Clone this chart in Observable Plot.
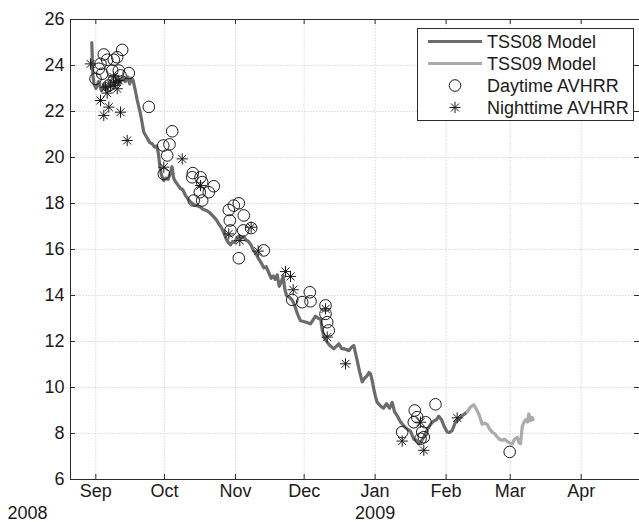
<!DOCTYPE html>
<html><head><meta charset="utf-8">
<script src="https://cdn.jsdelivr.net/npm/d3@7"></script>
<script src="https://cdn.jsdelivr.net/npm/@observablehq/plot@0.6"></script>
<style>body{margin:0;background:#fff}#chart{width:639px;height:522px}</style>
</head><body><div id="chart"></div>
<script>
// Time is stored as days since 2008-09-01 (UTC)
const baseDay = "2008-09-01";
const xLimitDays = [-11.05, 237.47];

const t08Day = [-1.75,-1.31,-0.79,0.09,1.18,2.49,3.80,5.11,6.42,7.73,
9.04,10.35,11.66,12.88,14.02,14.81,15.59,16.29,17.30,18.08,
19.52,20.96,22.45,23.50,24.59,25.64,26.60,27.30,28.00,28.78,
29.70,30.62,31.62,32.49,33.28,34.02,34.81,35.90,36.99,38.00,
39.18,40.27,41.49,42.89,44.20,45.60,46.82,48.31,49.79,51.19,
52.59,53.81,54.90,55.99,56.99,57.91,58.83,59.71,60.71,61.58,
62.63,63.64,64.60,65.69,66.69,67.78,68.88,70.01,71.10,72.33,
73.42,74.42,75.52,76.61,77.53,78.40,79.23,80.10,80.89,81.81,
82.51,83.29,84.29,85.78,86.78,88.09,89.40,91.59,93.77,95.96,
97.27,98.23,98.88,99.89,101.07,102.51,103.95,105.13,106.13,107.31,
108.32,109.50,110.50,111.68,112.68,113.43,114.17,115.18,116.35,117.36,
118.54,119.32,119.98,120.72,121.42,122.16,122.90,124.34,125.66,126.97,
128.28,129.46,130.47,131.78,133.09,135.27,137.46,138.89,140.07,141.07,
141.81,143.26,144.74,146.18,147.62,148.80,149.81,150.99,151.99,153.48,
154.48,155.66,157.10,158.41,159.72,161.03,162.21];
const t08Temp = [25.0,23.6,23.2,23.0,23.3,22.9,23.2,23.0,23.3,23.1,
23.4,23.2,23.5,23.3,23.5,23.2,23.45,23.35,22.9,22.5,
21.9,21.1,20.85,20.65,20.6,20.45,20.5,20.2,19.6,19.2,
19.0,19.1,19.05,19.3,19.6,19.1,18.95,18.8,18.65,18.6,
18.35,18.2,18.05,17.95,17.9,17.85,17.75,17.7,17.6,17.45,
17.3,17.1,16.95,16.7,16.45,16.3,16.2,16.35,16.3,16.5,
16.6,16.5,16.55,16.4,16.35,16.2,15.95,15.8,15.6,15.4,
15.2,15.25,15.0,14.75,14.85,14.7,14.9,14.4,14.55,14.85,
14.3,14.0,13.95,13.8,13.6,13.2,12.9,12.85,12.77,13.1,
13.0,12.98,12.5,12.15,11.97,11.8,11.68,11.8,11.9,11.7,
11.68,11.65,11.6,11.75,11.83,11.5,11.17,10.7,10.25,10.4,
10.52,10.65,10.6,10.3,9.94,9.6,9.35,9.2,9.1,9.3,
9.1,9.35,8.95,8.75,8.5,8.25,8.1,7.75,7.7,7.55,
7.6,7.85,8.15,8.4,8.55,8.6,8.75,8.6,8.35,8.06,
8.05,8.13,8.5,8.6,8.75,8.85,8.95];

const t09Day = [162.21,163.65,165.09,166.27,167.28,168.76,169.77,170.95,171.95,173.13,
174.14,175.32,176.32,177.50,178.51,179.69,180.69,181.87,182.88,184.05,
184.84,185.50,186.24,186.81,187.68,188.56,189.12,189.87,190.52,191.04];
const t09Temp = [8.95,9.15,9.25,9.05,8.85,8.4,8.45,8.4,8.2,8.06,
8.0,7.85,7.75,7.7,7.75,7.65,7.6,7.55,7.75,7.84,
7.6,7.55,8.3,8.45,8.6,8.5,8.85,8.55,8.7,8.6];

const dayDay = [-0.13,1.31,2.05,2.8,3.49,4.98,5.68,7.16,7.86,7.86,9.35,10.05,10.79,11.53,14.41,23.15,
29.44,29.70,31.18,32.19,33.37,42.10,42.37,42.80,45.42,45.73,46.47,46.47,49.35,51.54,
58.09,58.53,58.83,60.27,62.46,62.46,64.38,64.64,67.87,73.38,85.78,90.15,93.47,93.77,
100.32,100.32,101.07,101.76,133.82,138.89,139.33,140.37,141.82,142.56,143.26,144.0,148.37,180.77];
const dayTemp = [23.42,23.86,24.07,23.64,24.48,24.25,23.13,23.78,24.25,23.35,24.36,23.78,23.57,24.68,23.67,22.2,
20.52,19.29,20.09,20.57,21.14,19.14,19.32,18.13,18.49,19.14,18.93,18.13,18.49,18.75,
17.72,17.26,16.83,17.91,18.01,15.62,16.83,17.48,16.93,15.96,13.81,13.71,14.14,13.75,
13.57,13.2,12.84,12.48,8.06,8.49,9.0,8.71,7.77,8.06,7.84,8.49,9.27,7.2];

const nightDay = [-2.31,2.05,3.49,4.24,4.98,5.68,6.46,7.73,8.6,9.35,
10.05,10.79,13.71,29.70,37.74,45.73,58.09,62.89,67.87,70.93,
82.85,85.04,86.22,100.32,101.07,109.06,133.82,141.82,143.26,157.84];
const nightTemp = [24.07,22.48,21.83,23.06,22.8,22.19,23.1,23.5,23.27,22.99,
23.35,21.97,20.74,19.58,19.94,18.78,16.68,16.39,16.97,15.93,
15.04,14.83,14.25,13.42,12.19,11.03,7.67,8.49,7.27,8.68];

const monthTicks = ["2008-09-01","2008-10-01","2008-11-01","2008-12-01","2009-01-01","2009-02-01","2009-03-01","2009-04-01"];
const monthLabels = ["Sep","Oct","Nov","Dec","Jan","Feb","Mar","Apr"];
const yTicks = [6,8,10,12,14,16,18,20,22,24,26];
const yearTicks = ["2008-09-01","2009-01-01"];
const yearLabels = ["2008","2009"];
const legendLabels = ["TSS08 Model","TSS09 Model","Daytime AVHRR","Nighttime AVHRR"];

const C08 = "#6b6b6b", C09 = "#ababab", INK = "#1a1a1a", AX = "#2b2b2b", GRID = "#e0e0e0";
const FS = 18;

const base = new Date(baseDay + "T00:00:00Z").getTime();
const toDate = d => new Date(base + d * 864e5);
const parse = s => new Date(s + "T00:00:00Z");

const tss08 = t08Day.map((d, i) => ({date: toDate(d), temp: t08Temp[i]}));
const tss09 = t09Day.map((d, i) => ({date: toDate(d), temp: t09Temp[i]}));
const daytime = dayDay.map((d, i) => ({date: toDate(d), temp: dayTemp[i]}));
const nighttime = nightDay.map((d, i) => ({date: toDate(d), temp: nightTemp[i]}));
const monthDates = monthTicks.map(parse);
const labelOf = new Map(monthDates.map((d, i) => [+d, monthLabels[i]]));
const xDomain = xLimitDays.map(toDate);

const W = 639, H = 522, ML = 70, MR = 0, MT = 19, MB = 43;
const frameW = W - ML - MR, frameH = H - MT - MB, TK = 5;

const plot = Plot.plot({
  width: W, height: H,
  marginLeft: ML, marginRight: MR, marginTop: MT, marginBottom: MB,
  style: {fontFamily: "'Liberation Sans', Arial, Helvetica, sans-serif", fontSize: FS + "px", color: INK, background: "#fff", overflow: "visible"},
  x: {type: "utc", domain: xDomain, label: null},
  y: {domain: [yTicks[0], yTicks[yTicks.length - 1]], label: null},
  marks: [
    Plot.ruleX(monthDates, {stroke: GRID, strokeDasharray: "2,1"}),
    Plot.ruleY(yTicks.slice(1, -1), {stroke: GRID, strokeDasharray: "2,1"}),
    Plot.line(tss08, {x: "date", y: "temp", stroke: C08, strokeWidth: 3.2, strokeLinejoin: "round"}),
    Plot.line(tss09, {x: "date", y: "temp", stroke: C09, strokeWidth: 3.2, strokeLinejoin: "round"}),
    Plot.dot(daytime, {x: "date", y: "temp", r: 5.8, stroke: INK, strokeWidth: 1, fill: "none"}),
    Plot.dot(nighttime, {x: "date", y: "temp", symbol: "plus", r: 3.7, stroke: INK, strokeWidth: 1}),
    Plot.dot(nighttime, {x: "date", y: "temp", symbol: "times", r: 3.7, stroke: INK, strokeWidth: 1}),
    Plot.ruleY([yTicks[0]], {stroke: AX}),
    Plot.ruleY([yTicks[yTicks.length - 1]], {stroke: AX}),
    Plot.ruleX([xDomain[0]], {stroke: AX}),
    Plot.ruleX(monthDates, {insetTop: frameH - TK, stroke: AX}),
    Plot.ruleX(monthDates, {insetBottom: frameH - TK, stroke: AX}),
    Plot.ruleY(yTicks, {insetRight: frameW - TK, stroke: AX}),
    Plot.ruleY(yTicks, {insetLeft: frameW - TK, stroke: AX}),
    Plot.axisX(monthDates, {tickSize: 0, tickPadding: 5, tickFormat: d => labelOf.get(+d), fontSize: FS, label: null}),
    Plot.axisY(yTicks, {tickSize: 0, tickPadding: 6, fontSize: FS, label: null}),
    Plot.text([yearLabels[1]], {x: () => parse(yearTicks[1]), text: d => d, frameAnchor: "bottom", textAnchor: "middle", lineAnchor: "middle", dy: 34, fontSize: FS, fill: INK}),
    Plot.text([yearLabels[0]], {text: d => d, frameAnchor: "bottom-left", textAnchor: "middle", lineAnchor: "middle", dx: -43, dy: 34, fontSize: FS, fill: INK})
  ]
});
document.getElementById("chart").appendChild(plot);

// legend (inside the axes, top right)
const svg = d3.select(plot);
const lg = svg.append("g").attr("font-family", "'Liberation Sans', Arial, sans-serif").attr("font-size", FS).attr("fill", INK).attr("text-anchor", "start");
lg.append("rect").attr("x", 417.5).attr("y", 28.5).attr("width", 216).attr("height", 92)
  .attr("fill", "#fff").attr("stroke", AX).attr("stroke-width", 1);
const rowY = i => 41.5 + i * 22;
lg.append("line").attr("x1", 428).attr("x2", 482).attr("y1", rowY(0)).attr("y2", rowY(0)).attr("stroke", C08).attr("stroke-width", 3);
lg.append("line").attr("x1", 428).attr("x2", 482).attr("y1", rowY(1)).attr("y2", rowY(1)).attr("stroke", C09).attr("stroke-width", 3);
lg.append("circle").attr("cx", 455).attr("cy", rowY(2)).attr("r", 5.8).attr("fill", "none").attr("stroke", INK);
const sz = Math.PI * 3.7 * 3.7;
lg.append("path").attr("transform", `translate(455,${rowY(3)})`).attr("d", d3.symbol(d3.symbolPlus, sz)()).attr("fill", "none").attr("stroke", INK);
lg.append("path").attr("transform", `translate(455,${rowY(3)})`).attr("d", d3.symbol(d3.symbolTimes, sz)()).attr("fill", "none").attr("stroke", INK);
legendLabels.forEach((t, i) => {
  lg.append("text").attr("x", 487).attr("y", rowY(i)).attr("dy", "0.35em").attr("text-anchor", "start").text(t);
});
</script>
</body></html>
